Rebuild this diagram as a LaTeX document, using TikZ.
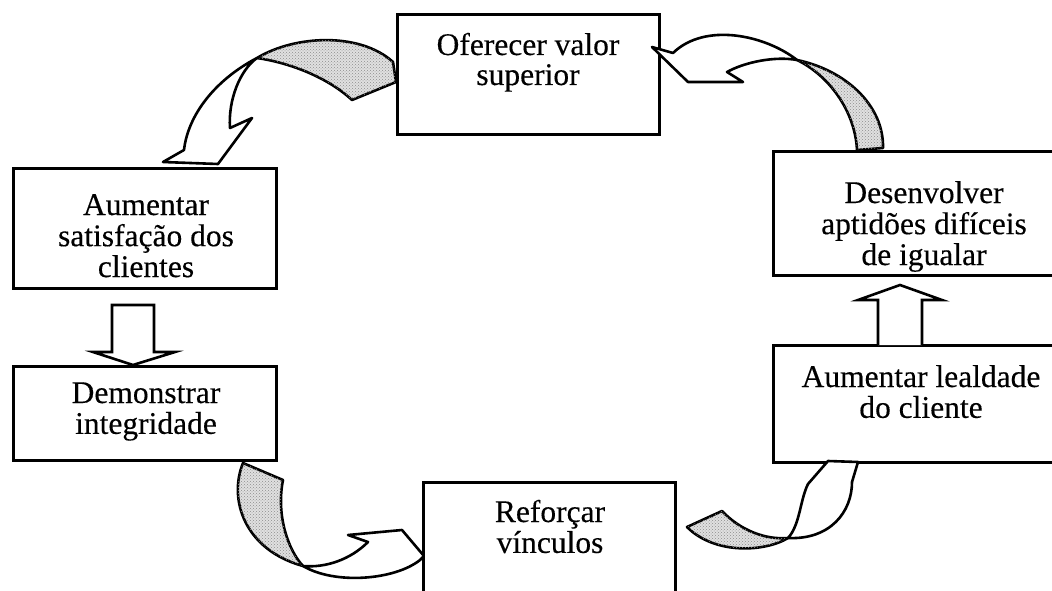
\documentclass[tikz,border=0pt]{standalone}
\usepackage{fontspec}
\setmainfont{Liberation Serif}[FakeBold=0.3]
\usetikzlibrary{patterns}
\newcommand\boxtext[1]{\begin{tabular}[t]{@{}c@{}}#1\end{tabular}}
\begin{document}
\begin{tikzpicture}[x=1pt,y=-1pt,
  stepbox/.style={draw=black, line width=3pt, inner sep=0pt, fill=white},
  lbl/.style={inner sep=0pt, anchor=base, font=\fontsize{31.5}{30}\selectfont},
  ribbon/.style={draw=black, line width=2.6pt, line join=round, fill=white},
  twist/.style={ribbon, fill=black!12,
    postaction={pattern=crosshatch dots, pattern color=black!45}},
  blockarrow/.style={draw=black, line width=2.6pt, fill=white, line join=miter}]
\useasboundingbox (0,0) rectangle (1052,591);
\clip (0,0) rectangle (1052,591);

% boxes
\node[stepbox, minimum width=262pt, minimum height=120pt] (valor) at (528,75) {};
\node[stepbox, minimum width=263pt, minimum height=120pt] (satisf) at (144.5,228) {};
\node[stepbox, minimum width=263pt, minimum height=94pt] (integr) at (144.5,413) {};
\node[stepbox, minimum width=252pt, minimum height=138pt] (vinc) at (549,551) {};
\node[stepbox, minimum width=302pt, minimum height=117pt] (leal) at (924,403.5) {};
\node[stepbox, minimum width=302pt, minimum height=123pt] (aptid) at (924,213.5) {};

% box texts
\node[lbl] (tvalor) at (528,55) {\boxtext{Oferecer valor\\superior}};
\node[lbl] (tsatisf) at (146,215) {\boxtext{Aumentar\\satisfação dos\\clientes}};
\node[lbl] (tintegr) at (146,403) {\boxtext{Demonstrar\\integridade}};
\node[lbl] (tvinc) at (550,522) {\boxtext{Reforçar\\vínculos}};
\node[lbl] (tleal) at (921,387) {\boxtext{Aumentar lealdade\\do cliente}};
\node[lbl] (taptid) at (924,203) {\boxtext{Desenvolver\\aptidões difíceis\\de igualar}};

% straight block arrows
\draw[blockarrow] (112,305) -- (154,305) -- (154,352) -- (175,352) -- (133,365)
  -- (93,352) -- (112,352) -- cycle;
\draw[blockarrow] (878,345) -- (878,300) -- (858,300) -- (900,285) -- (942,300)
  -- (922,300) -- (922,345);

% twisted ribbon: valor -> satisfacao
\draw[twist] (393,62) .. controls (360,32) and (295,35) .. (257,58)
  .. controls (285,62) and (325,75) .. (352,100) -- (396,82) -- cycle;
\draw[ribbon] (257,58) .. controls (215,80) and (188,115) .. (184,150)
  -- (163,162) -- (218,164) -- (252,118) -- (230,128)
  .. controls (228,100) and (240,70) .. (257,58) -- cycle;

% twisted ribbon: aptidoes -> valor
\draw[twist] (883,148) .. controls (884,105) and (845,70) .. (797,60)
  .. controls (828,75) and (855,110) .. (857,150) -- cycle;
\draw[ribbon] (797,60) .. controls (765,35) and (705,22) .. (673,53)
  -- (652,47) -- (688,82) -- (743,82) -- (727,72)
  .. controls (745,62) and (775,56) .. (797,60) -- cycle;

% twisted ribbon: integridade -> vinculos
\draw[twist] (243,463) .. controls (228,500) and (245,550) .. (303,566)
  .. controls (288,550) and (276,515) .. (283,480) -- cycle;
\draw[ribbon] (303,566) .. controls (335,585) and (395,580) .. (420,560)
  -- (424,556) -- (402,530) -- (348,535) -- (368,542)
  .. controls (350,560) and (325,568) .. (303,566) -- cycle;

% twisted ribbon: vinculos -> lealdade
\draw[twist] (722,511) .. controls (740,530) and (765,540) .. (788,538)
  .. controls (765,552) and (715,555) .. (687,527) -- cycle;
\draw[ribbon] (788,538) .. controls (830,540) and (852,512) .. (852,482)
  -- (858,462) -- (828,461) -- (808,484)
  .. controls (800,500) and (800,525) .. (788,538) -- cycle;
\end{tikzpicture}
\end{document}
